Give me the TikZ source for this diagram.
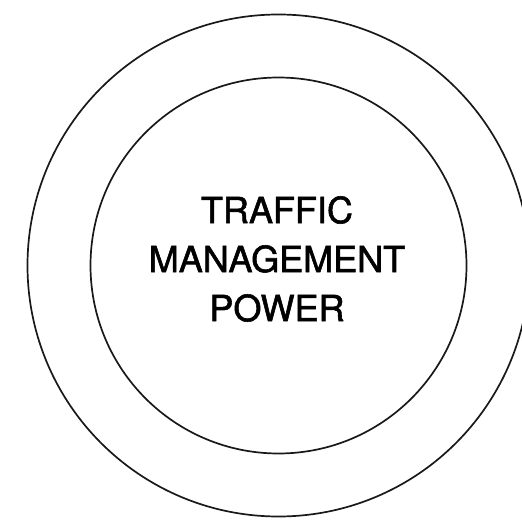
\documentclass[tikz,border=0pt]{standalone}
\usepackage{fontspec}
\setmainfont{TeX Gyre Heros}
\newfontfamily\heavyfont[FakeBold=1.6]{TeX Gyre Heros}
\begin{document}
\begin{tikzpicture}[x=1pt,y=1pt,
  ring/.style={draw=black!90, line width=1.7pt},
  label/.style={align=center, inner sep=0pt, font=\heavyfont\fontsize{36}{49}\selectfont}]
\useasboundingbox (0,0) rectangle (522,520);
\clip (0,0) rectangle (522,520);
\coordinate (c) at (278.5,254.5);
\draw[ring] (c) circle[radius=251];
\draw[ring] (c) circle[radius=188];
\node[label] (t) at (277,261) {TRAFFIC\\MANAGEMENT\\POWER};
\end{tikzpicture}
\end{document}
